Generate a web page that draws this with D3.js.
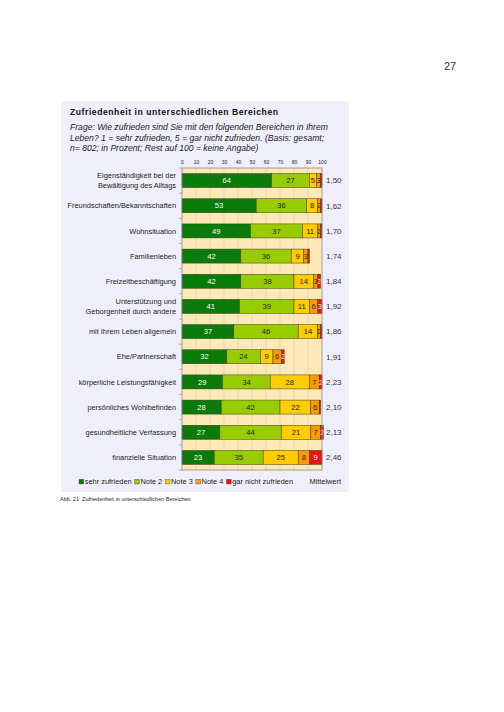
<!DOCTYPE html>
<meta charset="utf-8">
<style>
body { margin: 0; background: #fff; }
text { font-family: "Liberation Sans", Arial, sans-serif; }
</style>
<svg width="504" height="712"></svg>
<script src="https://d3js.org/d3.v7.min.js"></script>
<script>

// categories, top to bottom (line breaks with "|")
var categories = [
  "Eigenständigkeit bei der|Bewältigung des Alltags",
  "Freundschaften/Bekanntschaften",
  "Wohnsituation",
  "Familienleben",
  "Freizeitbeschäftigung",
  "Unterstützung und|Geborgenheit durch andere",
  "mit Ihrem Leben allgemein",
  "Ehe/Partnerschaft",
  "körperliche Leistungsfähigkeit",
  "persönliches Wohlbefinden",
  "gesundheitliche Verfassung",
  "finanzielle Situation"
];

// percentages per rating
var sehrZufrieden = [64, 53, 49, 42, 42, 41, 37, 32, 29, 28, 27, 23];
var note2         = [27, 36, 37, 36, 38, 39, 46, 24, 34, 42, 44, 35];
var note3         = [ 5,  8, 11,  9, 14, 11, 14,  9, 28, 22, 21, 25];
var note4         = [ 3,  2,  2,  3,  3,  6,  2,  6,  7,  6,  7,  8];
var garNicht      = [ 1,  1,  1,  1,  2,  3,  1,  2,  2,  1,  2,  9];

var mittelwert = ["1,50", "1,62", "1,70", "1,74", "1,84", "1,92", "1,86", "1,91", "2,23", "2,10", "2,13", "2,46"];

var seriesNames = ["sehr zufrieden", "Note 2", "Note 3", "Note 4", "gar nicht zufrieden"];
var seriesColors = ["#0a7a0a", "#99cc00", "#ffcc00", "#ff9900", "#ee1111"];
var labelColors = ["#ffffff", "#222222", "#222222", "#222222", "#ffffff"];
var xTicks = [0, 10, 20, 30, 40, 50, 60, 70, 80, 90, 100];

var series = [sehrZufrieden, note2, note3, note4, garNicht];

var svg = d3.select("svg");

// page number
svg.append("text")
    .attr("x", 450).attr("y", 70)
    .attr("text-anchor", "middle")
    .style("font-size", "11px")
    .attr("fill", "#333")
    .text("27");

// panel
svg.append("rect")
    .attr("x", 61).attr("y", 101)
    .attr("width", 288).attr("height", 391)
    .attr("fill", "#efeffb");

svg.append("text")
    .attr("x", 70).attr("y", 115)
    .style("font-size", "8.6px")
    .style("font-weight", "bold")
    .style("letter-spacing", "0.55px")
    .attr("fill", "#111")
    .text("Zufriedenheit in unterschiedlichen Bereichen");

var subtitle = [
  "Frage: Wie zufrieden sind Sie mit den folgenden Bereichen in Ihrem",
  "Leben? 1 = sehr zufrieden, 5 = gar nicht zufrieden.  (Basis: gesamt;",
  "n= 802; in Prozent; Rest auf 100 = keine Angabe)"
];
svg.append("g").selectAll("text")
  .data(subtitle)
  .join("text")
    .attr("x", 70)
    .attr("y", function(d, i) { return 130 + i * 10.6; })
    .style("font-size", "8.6px")
    .style("font-style", "italic")
    .attr("fill", "#222")
    .text(function(d) { return d; });

// scales
var x = d3.scaleLinear().domain([0, 100]).range([182, 322]);
var y = d3.scaleBand().domain(d3.range(categories.length)).range([168, 470]);
var barH = 14;

// plot background
svg.append("rect")
    .attr("x", x(0)).attr("y", y.range()[0])
    .attr("width", x(100) - x(0)).attr("height", y.range()[1] - y.range()[0])
    .attr("fill", "#fde9b8");

// vertical grid
svg.append("g").selectAll("line")
  .data(xTicks.slice(1, -1))
  .join("line")
    .attr("x1", function(d) { return x(d); })
    .attr("x2", function(d) { return x(d); })
    .attr("y1", y.range()[0]).attr("y2", y.range()[1])
    .attr("stroke", "#d9c9a4")
    .attr("stroke-width", 0.6);

// top tick labels
var xAxis = svg.append("g")
    .attr("transform", "translate(0," + (y.range()[0] - 4) + ")")
    .call(d3.axisTop(x).tickValues(xTicks).tickSize(0).tickPadding(0));
xAxis.select(".domain").remove();
xAxis.selectAll("text")
    .style("font-size", "5px")
    .attr("fill", "#222");

// left axis with ticks at band boundaries
svg.append("g").selectAll("line")
  .data(d3.range(categories.length + 1))
  .join("line")
    .attr("x1", x(0) - 3).attr("x2", x(0))
    .attr("y1", function(d) { return y.range()[0] + d * y.step(); })
    .attr("y2", function(d) { return y.range()[0] + d * y.step(); })
    .attr("stroke", "#777")
    .attr("stroke-width", 0.6);

// stacked bars
var defs = svg.append("defs");
var bars = svg.append("g");
categories.forEach(function(cat, i) {
  var acc = 0;
  var yc = y(i) + y.bandwidth() / 2;
  series.forEach(function(s, k) {
    var v = s[i];
    var x0 = x(acc), x1 = x(acc + v);
    acc += v;
    bars.append("rect")
        .attr("x", x0).attr("y", yc - barH / 2)
        .attr("width", x1 - x0).attr("height", barH)
        .attr("fill", seriesColors[k])
        .attr("stroke", "#3a3a1a")
        .attr("stroke-width", 0.5);
    if (v >= 2) {
      var id = "clip" + i + "_" + k;
      defs.append("clipPath").attr("id", id)
        .append("rect")
          .attr("x", x0).attr("y", yc - barH / 2)
          .attr("width", x1 - x0).attr("height", barH);
      bars.append("text")
          .attr("clip-path", "url(#" + id + ")")
          .attr("x", (x0 + x1) / 2).attr("y", yc)
          .attr("dy", "0.35em")
          .attr("text-anchor", "middle")
          .style("font-size", "7.6px")
          .attr("fill", labelColors[k])
          .text(v);
    }
  });
});

// frame
svg.append("rect")
    .attr("x", x(0)).attr("y", y.range()[0])
    .attr("width", x(100) - x(0)).attr("height", y.range()[1] - y.range()[0])
    .attr("fill", "none")
    .attr("stroke", "#8a8a8a")
    .attr("stroke-width", 0.8);

// category labels
svg.append("g").selectAll("text")
  .data(categories)
  .join("text")
    .attr("text-anchor", "end")
    .style("font-size", "7.4px")
    .attr("fill", "#222")
    .attr("transform", function(d, i) {
      return "translate(176," + (y(i) + y.bandwidth() / 2) + ")";
    })
    .each(function(d) {
      var lines = d.split("|");
      var t = d3.select(this);
      lines.forEach(function(l, j) {
        t.append("tspan")
            .attr("x", 0)
            .attr("y", (j - (lines.length - 1) / 2) * 10)
            .attr("dy", "0.35em")
            .text(l);
      });
    });

// mean values
svg.append("g").selectAll("text")
  .data(mittelwert)
  .join("text")
    .attr("x", 326)
    .attr("y", function(d, i) { return y(i) + y.bandwidth() / 2; })
    .attr("dy", "0.35em")
    .style("font-size", "8px")
    .attr("fill", "#333")
    .text(function(d) { return d; });

// legend
var legend = svg.append("g").attr("transform", "translate(79,484)");
var lx = 0;
seriesNames.forEach(function(name, k) {
  legend.append("rect")
      .attr("x", lx).attr("y", -4.8)
      .attr("width", 4.8).attr("height", 4.8)
      .attr("fill", seriesColors[k])
      .attr("stroke", "#555")
      .attr("stroke-width", 0.4);
  var t = legend.append("text")
      .attr("x", lx + 5.8).attr("y", 0)
      .style("font-size", "7.4px")
      .attr("fill", "#222")
      .text(name);
  lx += 5.8 + t.node().getComputedTextLength() + 3;
});
svg.append("text")
    .attr("x", 341).attr("y", 484)
    .attr("text-anchor", "end")
    .style("font-size", "7.4px")
    .attr("fill", "#222")
    .text("Mittelwert");

// caption
svg.append("text")
    .attr("x", 60).attr("y", 501)
    .style("font-size", "5.5px")
    .attr("fill", "#222")
    .text("Abb. 21: Zufriedenheit in unterschiedlichen Bereichen");

</script>
